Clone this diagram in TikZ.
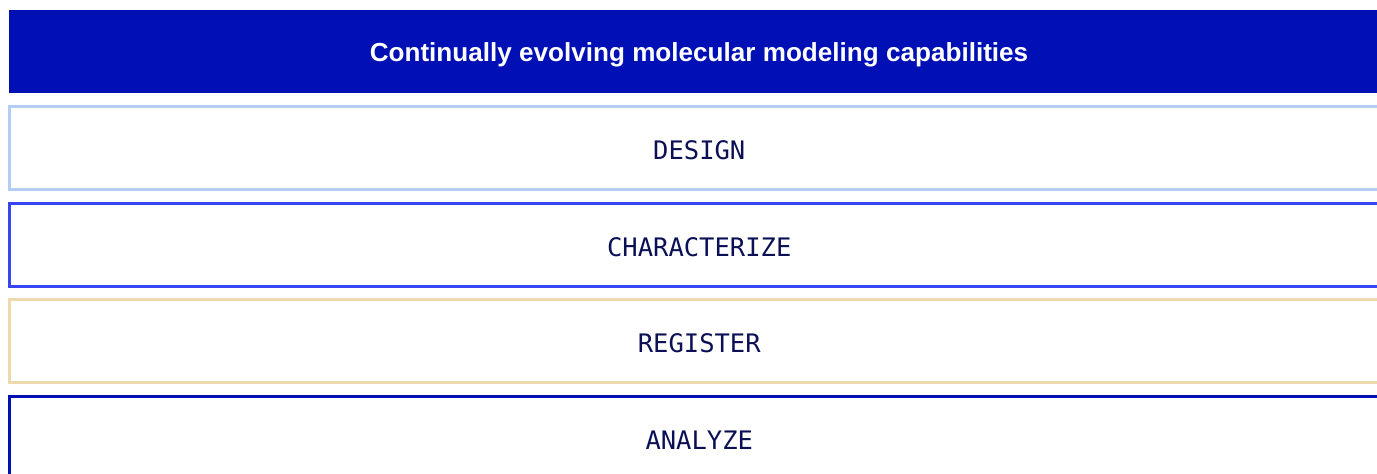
\documentclass[tikz,border=0pt]{standalone}
\usepackage{fontspec}
\setmainfont{Liberation Sans}
\newfontfamily\labelfont{DejaVu Sans Mono}
\definecolor{headblue}{HTML}{0010B4}
\definecolor{inknavy}{HTML}{0B1055}
\definecolor{paleblue}{HTML}{B3CDF5}
\definecolor{brightblue}{HTML}{3845F2}
\definecolor{sand}{HTML}{EDD9AE}
\tikzset{
  header/.style={fill=headblue, draw=none, minimum width=1380pt, minimum height=83pt,
    inner sep=0pt},
  headtext/.style={text=white, inner sep=0pt, font=\fontsize{26.1}{30}\selectfont\bfseries},
  stage/.style={draw=#1, line width=3pt, fill=white, minimum width=1379.5pt,
    minimum height=83pt, inner sep=0pt},
  stagetext/.style={text=inknavy, inner sep=0pt, font=\labelfont\fontsize{25.5}{30}\selectfont},
}
\begin{document}
\begin{tikzpicture}[x=1pt,y=-1pt]
  \useasboundingbox (0,0) rectangle (1377,474);
  \clip (0,0) rectangle (1377,474);
  % title band
  \node[header] (title) at (699,51.5) {};
  \node[headtext] (titletext) at (699,54.5) {Continually evolving molecular modeling capabilities};
  % stage boxes, open past the right edge
  \node[stage=paleblue]   (design)   at (699.25,148) {};
  \node[stage=brightblue] (charact)  at (699.25,245) {};
  \node[stage=sand]       (register) at (699.25,341) {};
  \node[stage=headblue, minimum height=84.5pt] (analyze) at (699.25,438.75) {};
  % stage names
  \node[stagetext] (designtext)   at ([yshift=-2pt]design.center)   {DESIGN};
  \node[stagetext] (characttext)  at ([yshift=-2pt]charact.center)  {CHARACTERIZE};
  \node[stagetext] (registertext) at ([yshift=-2pt]register.center) {REGISTER};
  \node[stagetext] (analyzetext)  at ([yshift=-1.5pt]analyze.center) {ANALYZE};
\end{tikzpicture}
\end{document}
